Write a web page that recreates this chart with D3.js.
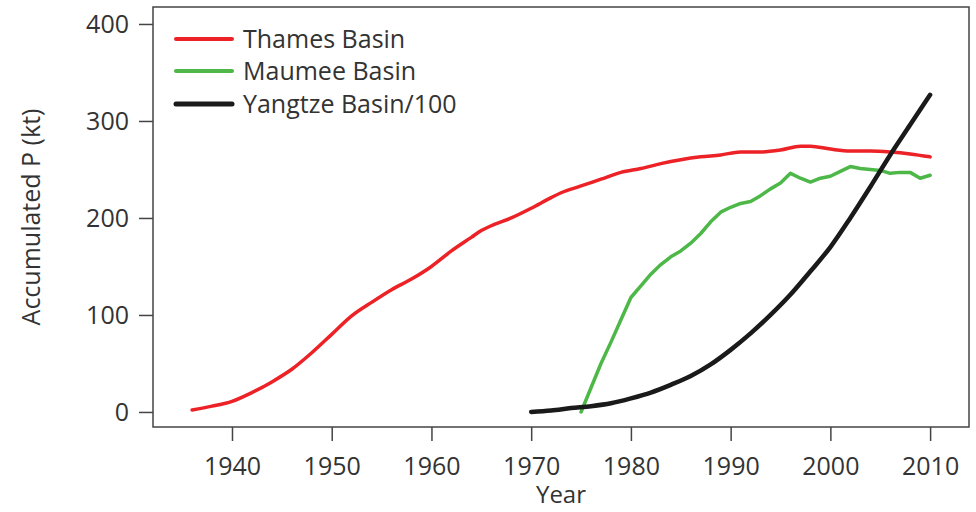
<!DOCTYPE html>
<html>
<head>
<meta charset="utf-8">
<script src="https://cdn.jsdelivr.net/npm/d3@7/dist/d3.min.js"></script>
<style>
  html, body { margin: 0; padding: 0; background: #fff; }
  svg { display: block; }
  text { font-family: "Open Sans", "Noto Sans", sans-serif; fill: #333; }
</style>
</head>
<body>
<svg id="chart" width="976" height="512"></svg>
<script>
// ---- data ----
const thamesYears = [1936,1938,1940,1942,1944,1946,1948,1950,1952,1954,1956,1958,1960,1962,1964,1965,1966,1968,1970,1972,1973,1975,1977,1979,1981,1983,1985,1987,1989,1991,1993,1995,1997,1998,2000,2002,2004,2006,2008,2010];
const thamesValues = [2,6,11,20,31,44,61,80,99,113,126,137,150,166,180,187,192,200,210,221,226,233,240,247,251,256,260,263,265,268,268,270,274,274,271,269,269,268,266,263];

const maumeeYears = [1975,1976,1977,1978,1979,1980,1981,1982,1983,1984,1985,1986,1987,1988,1989,1990,1991,1992,1993,1994,1995,1996,1997,1998,1999,2000,2001,2002,2003,2004,2005,2006,2007,2008,2009,2010];
const maumeeValues = [0,25,50,72,95,118,130,142,152,160,166,174,184,196,206,211,215,217,223,230,236,246,241,237,241,243,248,253,251,250,249,246,247,247,241,244];

const yangtzeYears = [1970,1972,1974,1976,1978,1980,1982,1984,1986,1988,1990,1992,1994,1996,1998,2000,2002,2004,2006,2008,2010];
const yangtzeValues = [0,1.5,4,6,9,14,20,28,37,49,64,81,100,121,145,170,200,232,265,296,327];

const xTicks = [1940,1950,1960,1970,1980,1990,2000,2010];
const yTicks = [0,100,200,300,400];
const seriesNames = ["Thames Basin","Maumee Basin","Yangtze Basin/100"];
const seriesColors = ["#ec2227","#4db848","#1a1a1a"];
const seriesWidths = [3.5,3.5,4.5];

// ---- layout ----
const svg = d3.select("#chart");
const pLeft = 153, pRight = 969, pTop = 7, pBottom = 427;

const x = d3.scaleLinear().domain([1932.08, 2013.9]).range([pLeft, pRight]);
const y = d3.scaleLinear().domain([-15.5, 417.5]).range([pBottom, pTop]);

// axes
const xAxis = svg.append("g")
  .attr("transform", `translate(0,${pBottom})`)
  .call(d3.axisBottom(x).tickValues(xTicks).tickFormat(d3.format("d")).tickSize(14).tickPadding(10));
const yAxis = svg.append("g")
  .attr("transform", `translate(${pLeft},0)`)
  .call(d3.axisLeft(y).tickValues(yTicks).tickSize(14).tickPadding(10));

[xAxis, yAxis].forEach(g => {
  g.select(".domain").remove();
  g.selectAll(".tick line").attr("stroke", "#444").attr("stroke-width", 1.5);
  g.selectAll(".tick text").style("font-size", "25px").attr("fill", "#333")
    .style("font-family", '"Open Sans", sans-serif');
});
yAxis.selectAll(".tick text").attr("dy", "0.36em");
xAxis.selectAll(".tick text").attr("dy", "0.95em");

// frame
svg.append("rect")
  .attr("x", pLeft).attr("y", pTop)
  .attr("width", pRight - pLeft).attr("height", pBottom - pTop)
  .attr("fill", "none").attr("stroke", "#444").attr("stroke-width", 1.5);

// lines
const series = [
  {years: thamesYears, values: thamesValues, curve: d3.curveMonotoneX},
  {years: maumeeYears, values: maumeeValues, curve: d3.curveLinear},
  {years: yangtzeYears, values: yangtzeValues, curve: d3.curveMonotoneX}
];
series.forEach((s, i) => {
  const pts = s.years.map((yr, j) => [yr, s.values[j]]);
  const line = d3.line().x(d => x(d[0])).y(d => y(d[1])).curve(s.curve);
  svg.append("path")
    .attr("d", line(pts))
    .attr("fill", "none")
    .attr("stroke", seriesColors[i])
    .attr("stroke-width", seriesWidths[i])
    .attr("stroke-linejoin", "round")
    .attr("stroke-linecap", "round");
});

// legend
const legendY = [39, 71, 104];
seriesNames.forEach((name, i) => {
  svg.append("line")
    .attr("x1", 176).attr("x2", 232)
    .attr("y1", legendY[i]).attr("y2", legendY[i])
    .attr("stroke", seriesColors[i]).attr("stroke-width", seriesWidths[i] + 0.5)
    .attr("stroke-linecap", "round");
  svg.append("text")
    .attr("x", 243).attr("y", legendY[i] + 9)
    .style("font-size", "25px")
    .text(name);
});

// axis titles
svg.append("text")
  .attr("x", 561).attr("y", 503)
  .attr("text-anchor", "middle")
  .style("font-size", "24px")
  .text("Year");

svg.append("text")
  .attr("transform", "translate(40,217) rotate(-90)")
  .attr("text-anchor", "middle")
  .style("font-size", "25px")
  .text("Accumulated P (kt)");
</script>
</body>
</html>
